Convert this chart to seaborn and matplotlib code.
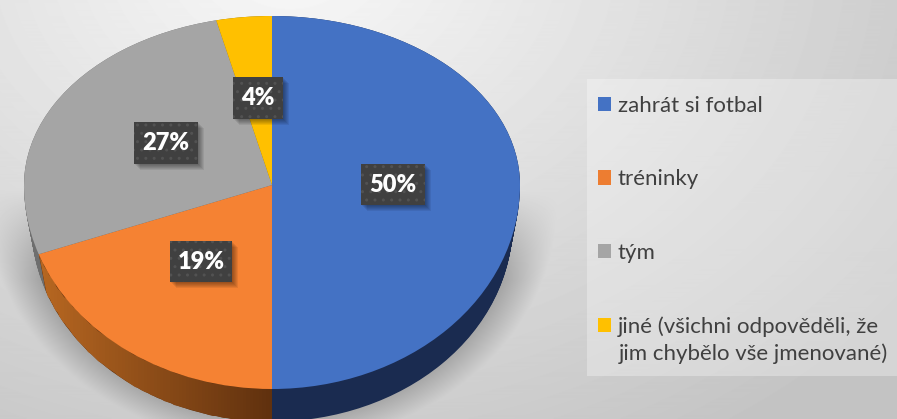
import numpy as np
import matplotlib
matplotlib.use('Agg')
import matplotlib.pyplot as plt
from matplotlib.patches import Polygon, Rectangle, Patch
import seaborn as sns

kategorie = ['zahrát si fotbal', 'tréninky', 'tým', 'jiné (všichni odpověděli, že']
kategorie_radek2 = 'jim chybělo vše jmenované)'
hodnoty = [50.0, 19.49, 26.9, 3.61]
popisky = ['50%', '19%', '27%', '4%']

barvy = ['#4472C4', '#F58233', '#A5A5A5', '#FFC000']
barvy_legenda = ['#4472C4', '#ED7D31', '#A5A5A5', '#FFC000']
barvy_bok = ['#1A2B50', '#5F300E', '#6E6E6E', '#8A6A00']

sns.set_theme(style='white')
plt.rcParams['font.family'] = ['Lato', 'DejaVu Sans']

W, H = 897, 419
fig = plt.figure(figsize=(W / 100, H / 100), dpi=100)

# pozadi + stin pod kolacem
ax_bg = fig.add_axes([0, 0, 1, 1])
xx, yy = np.meshgrid(np.arange(W), np.arange(H))
pozadi = 0.975 - 0.19 * np.clip(np.hypot((xx - 290) / 700, (yy + 40) / 520), 0, 1.1)
d = np.hypot((xx - 272) / 285, (yy - 205) / 240)
stin = np.clip((1.0 - d) / 0.2, 0, 1) * np.clip((yy - 190) / 90, 0, 1) * 0.3
ax_bg.imshow(pozadi - stin, cmap='gray', vmin=0, vmax=1, extent=(0, W, H, 0), aspect='auto')
ax_bg.add_patch(Rectangle((587, 79), 310, 297, facecolor='white', alpha=0.3, lw=0))
ax_bg.set_xlim(0, W)
ax_bg.set_ylim(H, 0)
ax_bg.axis('off')

# kolac - horni a dolni pulka maji jine meritko (perspektiva)
RY_HORNI, RY_DOLNI, RX = 169.0, 204.0, 248.0


def dopredu(y):
    y = np.asarray(y, dtype=float)
    return np.where(y >= 0, y * RY_HORNI, y * RY_DOLNI)


def zpet(y):
    y = np.asarray(y, dtype=float)
    return np.where(y >= 0, y / RY_HORNI, y / RY_DOLNI)


ax = fig.add_axes([0, 0, 1, 1])
ax.patch.set_alpha(0)
bez_okraje = {'linewidth': 0, 'edgecolor': 'none'}

# bok kolace
hloubka = 0.19
zuzeni = 0.03
for k in np.linspace(hloubka, 0, 40):
    r = 1 - zuzeni * k / hloubka
    ax.pie(hodnoty, colors=barvy_bok, startangle=90, counterclock=False, radius=r, center=(0, -k), wedgeprops=bez_okraje)

# prechod na oranzovem boku
konec = 180 + 360 * hodnoty[1] / 100
th = np.radians(np.linspace(180, konec, 80))
horni = np.c_[np.sin(th), np.cos(th)]
dolni = (horni * (1 - zuzeni) + [0, -hloubka])[::-1]
xs = np.linspace(-1.02, 0, 80)
mesh = ax.pcolormesh(xs, [-1.4, 0], np.array([xs[:-1]]), cmap=sns.blend_palette(['#BC6A22', '#5F300E'], as_cmap=True),
                     vmin=-1.0, vmax=0, shading='flat', zorder=1.05)
ax.set_yscale('function', functions=(dopredu, zpet))
mesh.set_clip_path(Polygon(np.r_[horni, dolni], transform=ax.transData))

kruh, _ = ax.pie(hodnoty, colors=barvy, startangle=90, counterclock=False, radius=1, wedgeprops=bez_okraje)
for w in kruh:
    w.set_zorder(2)

ax.set_aspect('auto')
ax.set_xlim(-272 / RX, (W - 272) / RX)
ax.set_ylim(-(H - 185) / RY_DOLNI, 185 / RY_HORNI)
ax.axis('off')

# popisky a legenda
ax_p = fig.add_axes([0, 0, 1, 1])
ax_p.patch.set_alpha(0)
ax_p.set_xlim(0, W)
ax_p.set_ylim(H, 0)
ax_p.axis('off')

boxy = [(361, 164, 64, 41), (170, 241, 62, 41), (134, 122, 64, 42), (233, 77, 50, 42)]
for (x, y, s, v), t in zip(boxy, popisky):
    for o in range(1, 7):
        ax_p.add_patch(Rectangle((x + o, y + o), s, v, facecolor='black', alpha=0.07, lw=0))
    ax_p.add_patch(Rectangle((x, y), s, v, facecolor='#404040', edgecolor='#525252', hatch='..', lw=0))
    ax_p.text(x + s / 2, y + v / 2, t, color='white', fontsize=17, fontweight='heavy', ha='center', va='center')

uchyty = [Patch(facecolor=c, lw=0) for c in barvy_legenda]
ax_p.legend(uchyty, kategorie, loc='upper left', bbox_to_anchor=(598 / W, 1 - 96 / H), bbox_transform=fig.transFigure,
            frameon=False, fontsize=16, labelcolor='#404040', handlelength=0.6, handleheight=0.6, handletextpad=0.3,
            labelspacing=2.4, borderpad=0, borderaxespad=0)
ax_p.text(619, 354, kategorie_radek2, color='#404040', fontsize=16, ha='left', va='center')

fig.savefig('out.png', dpi=100)
